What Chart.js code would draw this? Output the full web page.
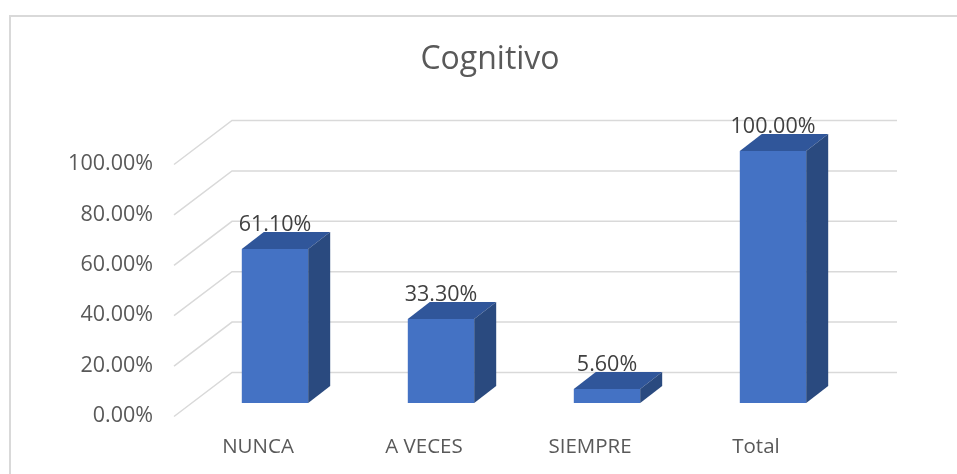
<!DOCTYPE html>
<html>
<head>
<meta charset="utf-8">
<script src="https://cdn.jsdelivr.net/npm/chart.js@4/dist/chart.umd.min.js"></script>
<style>
  html, body { margin: 0; padding: 0; background: #fff; }
  #wrap { width: 957px; height: 474px; }
</style>
</head>
<body>
<div id="wrap"><canvas id="chart" width="957" height="474"></canvas></div>
<script>
// data
const chartTitle = 'Cognitivo';
const categories = ['NUNCA', 'A VECES', 'SIEMPRE', 'Total'];
const values = [61.1, 33.3, 5.6, 100];
const yTicks = [0, 20, 40, 60, 80, 100];

const FONT = '"Open Sans", "Liberation Sans", sans-serif';
const GRID = '#d9d9d9';
// depth of the fake 3d box
const DX = 22, DY = -17;

const pseudo3d = {
  id: 'pseudo3d',
  beforeDatasetsDraw(chart) {
    const ctx = chart.ctx;
    const x = chart.scales.x, y = chart.scales.y;
    ctx.save();

    // frame
    ctx.strokeStyle = GRID;
    ctx.lineWidth = 2;
    ctx.strokeRect(10, 16, 960, 470);

    // title
    ctx.fillStyle = '#595959';
    ctx.font = '32px ' + FONT;
    ctx.textAlign = 'center';
    ctx.textBaseline = 'middle';
    ctx.fillText(chartTitle, 490, 60);

    // back wall + floor lines
    ctx.strokeStyle = GRID;
    ctx.lineWidth = 1.5;
    yTicks.forEach(v => {
      const py = y.getPixelForValue(v);
      ctx.beginPath();
      ctx.moveTo(174, py + 13.5);
      ctx.lineTo(232, py - 30.5);
      ctx.lineTo(897, py - 30.5);
      ctx.stroke();
    });

    // y tick labels (on the front plane)
    ctx.font = '21.5px ' + FONT;
    ctx.fillStyle = '#595959';
    ctx.textAlign = 'right';
    yTicks.forEach(v => {
      ctx.fillText(v.toFixed(2) + '%', 153, y.getPixelForValue(v) + 13);
    });

    // category labels
    ctx.font = '20.5px ' + FONT;
    ctx.textAlign = 'center';
    categories.forEach((c, i) => {
      ctx.fillText(c, x.getPixelForValue(i) - 17, 447);
    });
    ctx.restore();
  },
  afterDatasetsDraw(chart) {
    const ctx = chart.ctx;
    const meta = chart.getDatasetMeta(0);
    ctx.save();
    meta.data.forEach((bar, i) => {
      const l = bar.x - bar.width / 2, r = bar.x + bar.width / 2;
      const top = bar.y, base = bar.base;
      // top face
      ctx.fillStyle = '#30569a';
      ctx.beginPath();
      ctx.moveTo(l, top);
      ctx.lineTo(l + DX, top + DY);
      ctx.lineTo(r + DX, top + DY);
      ctx.lineTo(r, top);
      ctx.closePath();
      ctx.fill();
      // side face
      ctx.fillStyle = '#2a4a7f';
      ctx.beginPath();
      ctx.moveTo(r, top);
      ctx.lineTo(r + DX, top + DY);
      ctx.lineTo(r + DX, base + DY);
      ctx.lineTo(r, base);
      ctx.closePath();
      ctx.fill();
      // value label
      ctx.fillStyle = '#404040';
      ctx.font = '21.5px ' + FONT;
      ctx.textAlign = 'center';
      ctx.textBaseline = 'middle';
      ctx.fillText(values[i].toFixed(2) + '%', bar.x, top - 24);
    });
    ctx.restore();
  }
};

new Chart(document.getElementById('chart'), {
  type: 'bar',
  data: {
    labels: categories,
    datasets: [{
      data: values,
      backgroundColor: '#4472c4',
      borderWidth: 0,
      categoryPercentage: 1,
      barPercentage: 0.4
    }]
  },
  options: {
    responsive: false,
    animation: false,
    layout: { padding: { left: 192, right: 101, top: 151, bottom: 71 } },
    plugins: {
      legend: { display: false },
      tooltip: { enabled: false },
      title: { display: false }
    },
    scales: {
      x: { display: false },
      y: { display: false, min: 0, max: 100 }
    }
  },
  plugins: [pseudo3d]
});
</script>
</body>
</html>
